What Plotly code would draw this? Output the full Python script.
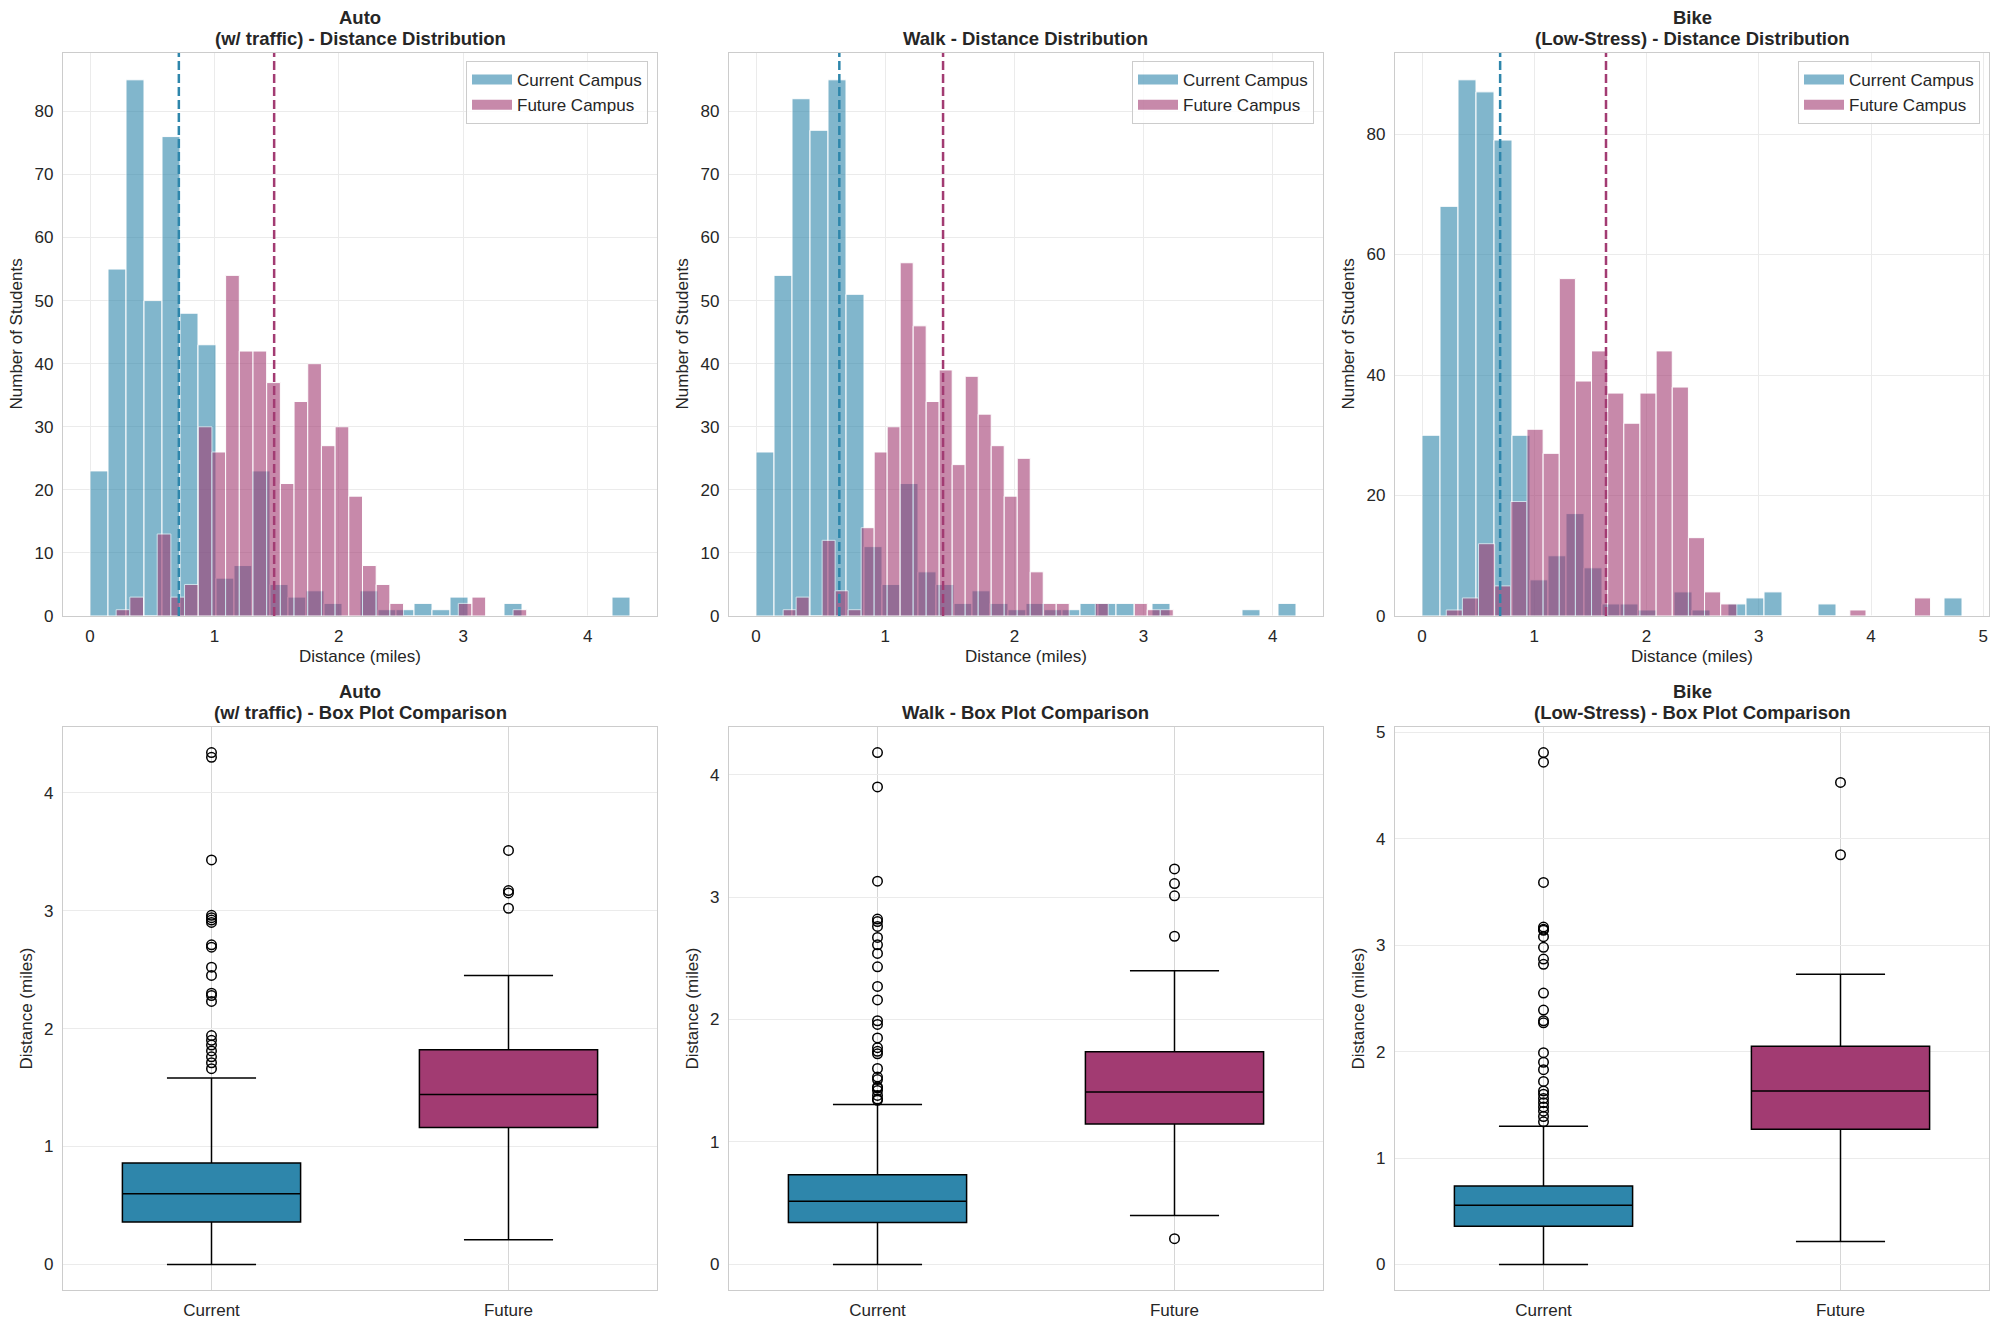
import numpy as np
import plotly.graph_objects as go

# the page is photographed at 2000x1328; the browser adds an 8px body margin
PAGE_W, PAGE_H, BODY = 2000, 1328, 8
W, H = PAGE_W - 2 * BODY, PAGE_H - 2 * BODY

panel_names = ["Auto<br>(w/ traffic)", "Walk", "Bike<br>(Low-Stress)"]
series_names = ["Current Campus", "Future Campus"]
box_names = ["Current", "Future"]
colors = ["#2E86AB", "#A23B72"]

# histogram counts (30 bins each)
auto_cur_counts = [23, 55, 85, 50, 76, 48, 43, 6, 8, 23, 5, 3, 4, 2, 0, 4, 1, 1, 2, 1, 3, 0, 0, 2, 0, 0, 0, 0, 0, 3]
auto_fut_counts = [1, 3, 0, 13, 3, 5, 30, 26, 54, 42, 42, 37, 21, 34, 40, 27, 30, 19, 8, 5, 2, 0, 0, 0, 0, 2, 3, 0, 0, 1]
walk_cur_counts = [26, 54, 82, 77, 85, 51, 11, 5, 21, 7, 5, 2, 4, 2, 1, 2, 1, 1, 2, 2, 2, 0, 2, 0, 0, 0, 0, 1, 0, 2]
walk_fut_counts = [1, 3, 0, 12, 4, 1, 14, 26, 30, 56, 46, 34, 39, 24, 38, 32, 27, 19, 25, 7, 2, 2, 0, 0, 2, 0, 0, 2, 1, 1]
bike_cur_counts = [30, 68, 89, 87, 79, 30, 6, 10, 17, 8, 2, 2, 1, 0, 4, 1, 0, 2, 3, 4, 0, 0, 2, 0, 0, 0, 0, 0, 0, 3]
bike_fut_counts = [1, 3, 12, 5, 19, 31, 27, 56, 39, 44, 37, 32, 37, 44, 38, 13, 4, 2, 0, 0, 0, 0, 0, 0, 0, 1, 0, 0, 0, 3]

# min / max distance of each series (histogram bin range)
auto_cur_span = [0.0, 4.34]
auto_fut_span = [0.21, 3.51]
walk_cur_span = [0.0, 4.18]
walk_fut_span = [0.21, 3.23]
bike_cur_span = [0.0, 4.81]
bike_fut_span = [0.216, 4.53]

# mean distance (dashed lines)
auto_means = [0.714, 1.48]
walk_means = [0.645, 1.448]
bike_means = [0.696, 1.639]

# box stats: lower whisker, q1, median, q3, upper whisker
auto_cur_box = [0.0, 0.36, 0.60, 0.86, 1.58]
auto_fut_box = [0.21, 1.16, 1.44, 1.82, 2.45]
walk_cur_box = [0.0, 0.343, 0.516, 0.732, 1.305]
walk_fut_box = [0.40, 1.146, 1.408, 1.736, 2.398]
bike_cur_box = [0.0, 0.358, 0.557, 0.736, 1.298]
bike_fut_box = [0.216, 1.27, 1.63, 2.05, 2.726]

auto_cur_out = [4.34, 4.30, 3.43, 2.96, 2.94, 2.92, 2.90, 2.71, 2.69, 2.52, 2.45, 2.30, 2.28, 2.23,
                1.94, 1.90, 1.86, 1.81, 1.76, 1.71, 1.66]
auto_fut_out = [3.51, 3.17, 3.15, 3.02]
walk_cur_out = [4.18, 3.90, 3.13, 2.82, 2.80, 2.76, 2.67, 2.61, 2.54, 2.43, 2.27, 2.16, 1.99, 1.96,
                1.85, 1.77, 1.74, 1.72, 1.60, 1.53, 1.51, 1.45, 1.44, 1.42, 1.38, 1.35, 1.34]
walk_fut_out = [3.23, 3.11, 3.01, 2.68, 0.21]
bike_cur_out = [4.81, 4.72, 3.59, 3.17, 3.15, 3.14, 3.08, 2.98, 2.87, 2.82, 2.55, 2.39, 2.29, 2.27,
                1.99, 1.90, 1.83, 1.72, 1.63, 1.60, 1.56, 1.52, 1.48, 1.44, 1.39, 1.34]
bike_fut_out = [4.53, 3.85]

hist_ydtick = [10, 10, 20]

panels = [
    dict(counts=[auto_cur_counts, auto_fut_counts], spans=[auto_cur_span, auto_fut_span],
         means=auto_means, boxes=[auto_cur_box, auto_fut_box], outs=[auto_cur_out, auto_fut_out]),
    dict(counts=[walk_cur_counts, walk_fut_counts], spans=[walk_cur_span, walk_fut_span],
         means=walk_means, boxes=[walk_cur_box, walk_fut_box], outs=[walk_cur_out, walk_fut_out]),
    dict(counts=[bike_cur_counts, bike_fut_counts], spans=[bike_cur_span, bike_fut_span],
         means=bike_means, boxes=[bike_cur_box, bike_fut_box], outs=[bike_cur_out, bike_fut_out]),
]

# layout in page pixels
col_left = [63, 729, 1395]
col_w = 594
row_top = [53, 727]
row_h = 563

FONT = "Liberation Sans, Arial, sans-serif"
TXT = "#262626"


def px_x(v):
    return (v - BODY) / W


def px_y(v):
    return 1 - (v - BODY) / H


def aid(n):
    return "" if n == 1 else str(n)


def axis_base():
    return dict(showline=True, linecolor="#cccccc", linewidth=1.3, mirror=True, ticks="",
                tickfont=dict(size=17, color=TXT, family=FONT), showgrid=True,
                gridcolor="#ebebeb", gridwidth=1, zeroline=False, automargin=False)


def title_lines(text, x, top):
    # one annotation per line, matplotlib-like line spacing
    out = []
    for j, line in enumerate(reversed(text.split("<br>"))):
        out.append(dict(text="<b>%s</b>" % line, x=x, y=px_y(top), xref="paper", yref="paper",
                        xanchor="center", yanchor="bottom", yshift=2 + 21 * j, showarrow=False,
                        font=dict(size=18.5, color=TXT, family=FONT)))
    return out


fig = go.Figure()
layout = dict(width=W, height=H, margin=dict(l=0, r=0, t=0, b=0),
              plot_bgcolor="white", paper_bgcolor="white", barmode="overlay",
              font=dict(family=FONT, color=TXT), annotations=[], shapes=[])

for i, p in enumerate(panels):
    h = aid(i + 1)
    b_ = aid(i + 4)
    xd = [px_x(col_left[i]), px_x(col_left[i] + col_w)]
    hyd = [px_y(row_top[0] + row_h), px_y(row_top[0])]
    byd = [px_y(row_top[1] + row_h), px_y(row_top[1])]
    leg = "legend" if i == 0 else "legend%d" % (i + 1)

    # histograms
    lo = min(s[0] for s in p["spans"])
    hi = max(s[1] for s in p["spans"])
    pad = (hi - lo) * 0.05
    ymax = max(max(c) for c in p["counts"]) * 1.05
    for k in range(2):
        edges = np.linspace(p["spans"][k][0], p["spans"][k][1], len(p["counts"][k]) + 1)
        centers = (edges[:-1] + edges[1:]) / 2
        fig.add_trace(go.Bar(x=centers, y=p["counts"][k], width=edges[1] - edges[0],
                             name=series_names[k], showlegend=False,
                             marker=dict(color=colors[k], line=dict(color="white", width=1)),
                             opacity=0.6, xaxis="x" + h, yaxis="y" + h))
        # legend key drawn as a wide patch
        fig.add_trace(go.Scatter(x=[None], y=[None], mode="lines", name=series_names[k],
                                 line=dict(color=colors[k], width=12), opacity=0.6,
                                 xaxis="x" + h, yaxis="y" + h, legend=leg))
        layout["shapes"].append(dict(type="line", xref="x" + h, yref="y%s domain" % h,
                                     x0=p["means"][k], x1=p["means"][k], y0=0, y1=1,
                                     line=dict(color=colors[k], width=2.5, dash="9px,4px")))

    ax = axis_base()
    ax.update(domain=xd, range=[lo - pad, hi + pad], dtick=1, anchor="y" + h, ticklabelstandoff=4)
    layout["xaxis" + h] = ax
    ay = axis_base()
    ay.update(domain=hyd, range=[0, ymax], dtick=hist_ydtick[i], anchor="x" + h, ticklabelstandoff=5)
    layout["yaxis" + h] = ay

    layout[leg] = dict(x=px_x(col_left[i] + col_w - 9), y=px_y(row_top[0] + 8), xanchor="right",
                       yanchor="top", bgcolor="rgba(255,255,255,0.8)", bordercolor="#cccccc",
                       borderwidth=1, font=dict(size=17, color=TXT, family=FONT), itemwidth=40)

    # box plots
    allv = [b[0] for b in p["boxes"]] + [b[4] for b in p["boxes"]] + p["outs"][0] + p["outs"][1]
    blo, bhi = min(allv), max(allv)
    bpad = (bhi - blo) * 0.05
    for k in range(2):
        b = p["boxes"][k]
        fig.add_trace(go.Box(x=[k], lowerfence=[b[0]], q1=[b[1]], median=[b[2]], q3=[b[3]],
                             upperfence=[b[4]], width=0.6, whiskerwidth=0.5, fillcolor=colors[k],
                             line=dict(color="black", width=1.5), boxpoints=False, showlegend=False,
                             xaxis="x" + b_, yaxis="y" + b_))
        fig.add_trace(go.Scatter(x=[k] * len(p["outs"][k]), y=p["outs"][k], mode="markers",
                                 marker=dict(symbol="circle-open", size=9.5, color="black",
                                             line=dict(width=1.5, color="black")),
                                 showlegend=False, xaxis="x" + b_, yaxis="y" + b_))
    ax = axis_base()
    ax.update(domain=xd, range=[-0.5, 1.5], tickvals=[0, 1], ticktext=box_names, anchor="y" + b_,
              gridcolor="#d6d6d6", gridwidth=1.2, ticklabelstandoff=4)
    layout["xaxis" + b_] = ax
    ay = axis_base()
    ay.update(domain=byd, range=[blo - bpad, bhi + bpad], dtick=1, anchor="x" + b_, ticklabelstandoff=5)
    layout["yaxis" + b_] = ay

    # titles and axis labels
    cx = px_x(col_left[i] + col_w / 2)
    lfont = dict(size=17, color=TXT, family=FONT)
    layout["annotations"] += title_lines(panel_names[i] + " - Distance Distribution", cx, row_top[0])
    layout["annotations"] += title_lines(panel_names[i] + " - Box Plot Comparison", cx, row_top[1])
    layout["annotations"].append(dict(text="Distance (miles)", x=cx, y=px_y(row_top[0] + row_h + 40.5),
                                      xref="paper", yref="paper", xanchor="center", yanchor="middle",
                                      showarrow=False, font=lfont))
    layout["annotations"].append(dict(text="Number of Students", x=px_x(col_left[i] - 47),
                                      y=px_y(row_top[0] + row_h / 2), xref="paper", yref="paper",
                                      xanchor="center", yanchor="middle", textangle=-90, showarrow=False,
                                      font=lfont))
    layout["annotations"].append(dict(text="Distance (miles)", x=px_x(col_left[i] - 37),
                                      y=px_y(row_top[1] + row_h / 2), xref="paper", yref="paper",
                                      xanchor="center", yanchor="middle", textangle=-90, showarrow=False,
                                      font=lfont))

fig.update_layout(**layout)
fig.write_html("out.html")
